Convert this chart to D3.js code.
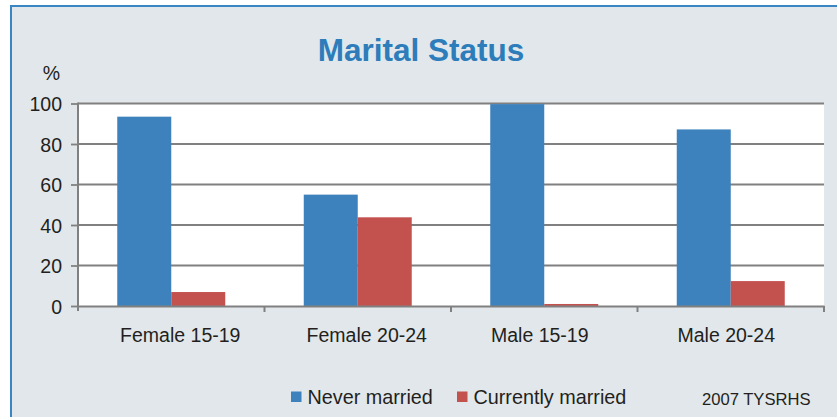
<!DOCTYPE html>
<html>
<head>
<meta charset="utf-8">
<script src="https://cdn.jsdelivr.net/npm/d3@7"></script>
<style>
  html, body { margin: 0; padding: 0; background: #ffffff; }
  svg { display: block; }
  text { font-family: "Liberation Sans", Arial, sans-serif; }
</style>
</head>
<body>
<svg id="chart" width="837" height="417"></svg>
<script>
const categories = ["Female 15-19", "Female 20-24", "Male 15-19", "Male 20-24"];
const seriesNames = ["Never married", "Currently married"];
const neverMarried = [93.5, 55, 99.7, 87.2];
const currentlyMarried = [6.9, 43.8, 1.0, 12.3];
const yTicks = [0, 20, 40, 60, 80, 100];
const title = "Marital Status";
const yUnit = "%";
const source = "2007 TYSRHS";
const colors = ["#3d82bd", "#c3524f"];

const svg = d3.select("#chart");
const W = 837, H = 417;

// Outer frame
svg.append("rect").attr("x", 0).attr("y", 0).attr("width", W).attr("height", H).attr("fill", "#ffffff");
svg.append("rect").attr("x", 11).attr("y", 6).attr("width", W + 20).attr("height", H + 20)
  .attr("fill", "#e2e7eb").attr("stroke", "#3a86c3").attr("stroke-width", 2);

const pLeft = 78, pRight = 824, pTop = 103.5, pBottom = 306;

const x0 = d3.scaleBand().domain(categories).range([pLeft, pRight]).paddingInner(0).paddingOuter(0);
const x1 = d3.scaleBand().domain(seriesNames).range([0, x0.bandwidth()]).paddingInner(0).paddingOuter(0.727);
const y = d3.scaleLinear().domain([0, 100]).range([pBottom, pTop]);

// Plot area
svg.append("rect").attr("x", pLeft).attr("y", pTop).attr("width", pRight - pLeft).attr("height", pBottom - pTop)
  .attr("fill", "#ffffff");

// Gridlines
svg.append("g").selectAll("line").data(yTicks.filter(d => d > 0)).join("line")
  .attr("x1", pLeft).attr("x2", pRight)
  .attr("y1", d => y(d)).attr("y2", d => y(d))
  .attr("stroke", "#808080").attr("stroke-width", 1.8);

// Bars
const data = categories.map((c, i) => ({ cat: c, vals: [neverMarried[i], currentlyMarried[i]] }));
const groups = svg.append("g").selectAll("g").data(data).join("g")
  .attr("transform", d => `translate(${x0(d.cat)},0)`);
groups.selectAll("rect").data(d => d.vals.map((v, j) => ({ s: seriesNames[j], v, j }))).join("rect")
  .attr("x", d => x1(d.s))
  .attr("width", x1.bandwidth())
  .attr("y", d => y(d.v))
  .attr("height", d => y(0) - y(d.v))
  .attr("fill", d => colors[d.j]);

// Y axis
const yAxis = svg.append("g").attr("transform", `translate(${pLeft},0)`)
  .call(d3.axisLeft(y).tickValues(yTicks).tickSize(7).tickPadding(9).tickFormat(d3.format("d")));
yAxis.select(".domain").remove();
yAxis.selectAll(".tick line").attr("stroke", "#808080").attr("stroke-width", 1.8);
yAxis.selectAll(".tick text").attr("font-size", "19.5px").attr("fill", "#231f20").attr("dy", "0.36em");
svg.append("line").attr("x1", pLeft).attr("x2", pLeft).attr("y1", pTop - 0.9).attr("y2", pBottom + 5)
  .attr("stroke", "#808080").attr("stroke-width", 2);

// X axis
const xAxis = svg.append("g").attr("transform", `translate(0,${pBottom})`)
  .call(d3.axisBottom(x0).tickSize(0).tickPadding(22));
xAxis.select(".domain").attr("stroke", "#808080").attr("stroke-width", 2.2);
xAxis.selectAll(".tick text").attr("font-size", "19.5px").attr("fill", "#231f20")
  .attr("dx", d => d.startsWith("Female") ? 9 : -4.5);
// category boundary ticks
svg.append("g").selectAll("line").data(categories.slice(1).concat(["__end"])).join("line")
  .attr("x1", d => d === "__end" ? pRight : x0(d))
  .attr("x2", d => d === "__end" ? pRight : x0(d))
  .attr("y1", pBottom).attr("y2", pBottom + 6)
  .attr("stroke", "#808080").attr("stroke-width", 2);

// Title
svg.append("text").attr("x", 421).attr("y", 61).attr("text-anchor", "middle")
  .attr("font-size", "31.5px").attr("font-weight", "bold").attr("fill", "#2d7dbb").text(title);

// % label
svg.append("text").attr("x", 51.5).attr("y", 80).attr("text-anchor", "middle")
  .attr("font-size", "19.5px").attr("fill", "#231f20").text(yUnit);

// Legend
const legendX = [291, 457];
const leg = svg.append("g").selectAll("g").data(seriesNames).join("g")
  .attr("transform", (d, i) => `translate(${legendX[i]},0)`);
leg.append("rect").attr("x", 0).attr("y", 391.5).attr("width", 10.5).attr("height", 10.5)
  .attr("fill", (d, i) => colors[i]);
leg.append("text").attr("x", 16.5).attr("y", 404).attr("font-size", "19.8px").attr("fill", "#231f20").text(d => d);

// Source
svg.append("text").attr("x", 702).attr("y", 405).attr("font-size", "16.6px").attr("fill", "#231f20").text(source);
</script>
</body>
</html>
